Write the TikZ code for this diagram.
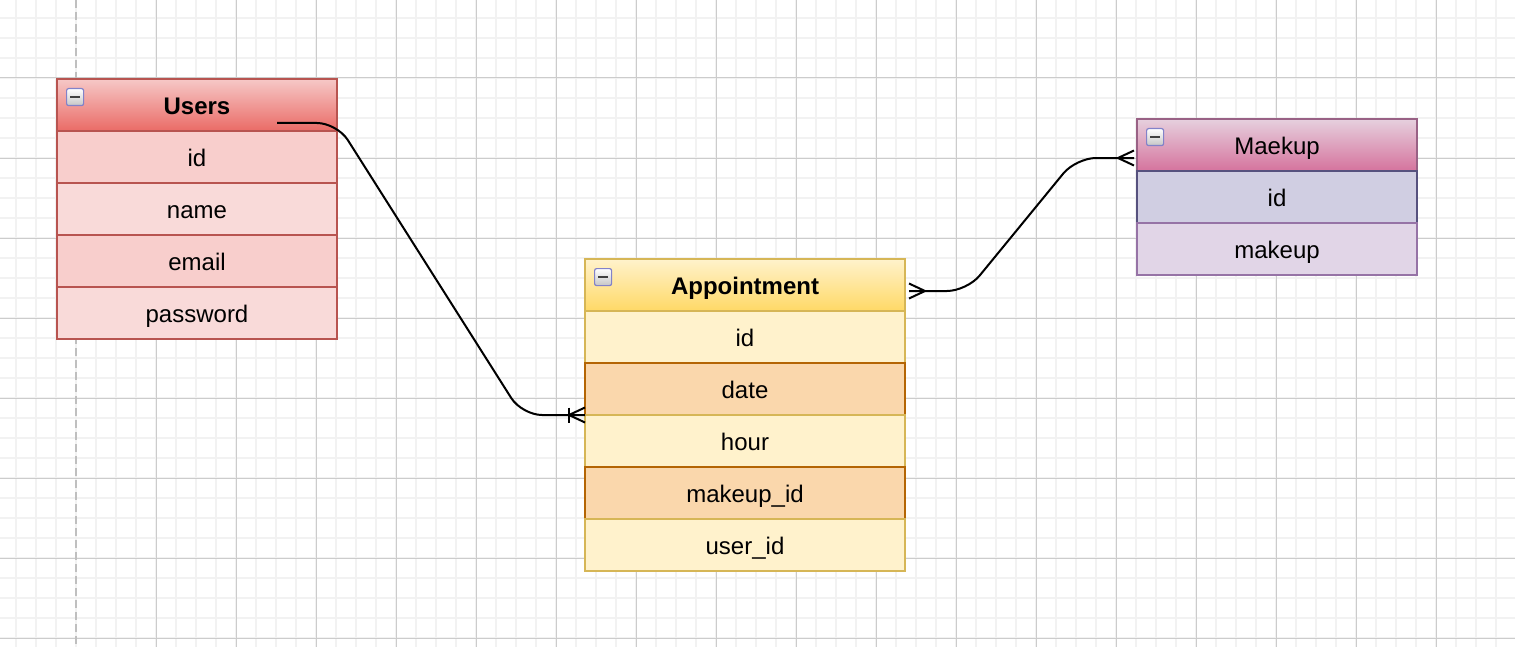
\documentclass[tikz,border=0pt]{standalone}
\usepackage{fontspec}
\setmainfont{Liberation Sans}
\usetikzlibrary{positioning, calc}

\definecolor{usersline}{HTML}{B85450}
\definecolor{usersdark}{HTML}{F8CECC}
\definecolor{userslight}{HTML}{F9DAD9}
\definecolor{userstop}{HTML}{F6C8C7}
\definecolor{usersbottom}{HTML}{EA6B66}
\definecolor{apptline}{HTML}{D6B656}
\definecolor{apptfill}{HTML}{FFF2CC}
\definecolor{apptbottom}{HTML}{FFD966}
\definecolor{keyline}{HTML}{B46504}
\definecolor{keyfill}{HTML}{FAD7AC}
\definecolor{maekline}{HTML}{996185}
\definecolor{maektop}{HTML}{E6D0DE}
\definecolor{maekbottom}{HTML}{D5739D}
\definecolor{maekidline}{HTML}{56517E}
\definecolor{maekidfill}{HTML}{D0CEE2}
\definecolor{maekrowline}{HTML}{9673A6}
\definecolor{maekrowfill}{HTML}{E1D5E7}

% small collapse box in the corner of a table header
\newcommand{\minusicon}[1]{%
  \node[collapse, anchor=north west] (#1-icon) at ($(#1.north west)+(9,9)$) {};
  \draw[line width=1.2pt, black!75] ($(#1-icon.center)+(-5,0)$) -- ($(#1-icon.center)+(5,0)$);
}

\begin{document}
\begin{tikzpicture}[
        x=0.5pt, y=-0.5pt,
        node distance=0pt,
        cell/.style={rectangle, line width=1pt, outer sep=0pt, inner sep=0pt, minimum height=26pt,
          text height=9.6pt, text depth=0.4pt, font=\fontsize{12}{14}\selectfont},
        usershead/.style={cell, draw=usersline, top color=userstop, bottom color=usersbottom, minimum width=140pt, font=\fontsize{12}{14}\selectfont\bfseries},
        usersrow/.style={cell, draw=usersline, minimum width=140pt},
        appthead/.style={cell, draw=apptline, top color=apptfill, bottom color=apptbottom, minimum width=160pt, font=\fontsize{12}{14}\selectfont\bfseries},
        apptrow/.style={cell, draw=apptline, fill=apptfill, minimum width=160pt},
        apptkey/.style={cell, draw=keyline, fill=keyfill, minimum width=160pt},
        maekhead/.style={cell, draw=maekline, top color=maektop, bottom color=maekbottom, minimum width=140pt},
        collapse/.style={rectangle, draw=gray!60!blue!70, line width=0.6pt, rounded corners=1pt, top color=white, bottom color=gray!45, minimum size=8.5pt, inner sep=0pt},
        minorgrid/.style={line width=1pt, color=black!5},
        majorgrid/.style={line width=0.5pt, color=black!20},
        relation/.style={line width=1pt, black},
        crowfoot/.pic={\draw[relation] (-16,0) -- (0,-7.5) (-16,0) -- (0,7.5);}
    ]
    \useasboundingbox (0,0) rectangle (1515,647);
    \fill[white] (0,0) rectangle (1515,647);

    % grid
    \foreach \gx in {16,36,...,1516} \draw[minorgrid] (\gx,0) -- (\gx,647);
    \foreach \gy in {18,38,...,638} \draw[minorgrid] (0,\gy) -- (1515,\gy);
    \foreach \gx in {156,236,...,1436} \draw[majorgrid] (\gx,0) -- (\gx,647);
    \foreach \gy in {78,158,...,638} \draw[majorgrid] (0,\gy) -- (1515,\gy);
    \draw[line width=1pt, black!25, dash pattern=on 4pt off 2pt] (76,0) -- (76,647);

    % Users
    \node[usershead, anchor=north west] (users) at (57,79) {Users};
    \node[usersrow, fill=usersdark, below=of users] (usersid) {id};
    \node[usersrow, fill=userslight, below=of usersid] (usersname) {name};
    \node[usersrow, fill=usersdark, below=of usersname] (usersemail) {email};
    \node[usersrow, fill=userslight, below=of usersemail] (userspass) {password};
    \minusicon{users}

    % Appointment
    \node[appthead, anchor=north west] (appt) at (585,259) {Appointment};
    \node[apptrow, below=of appt] (apptid) {id};
    \node[apptkey, below=of apptid] (apptdate) {date};
    \node[apptrow, below=of apptdate] (appthour) {hour};
    \node[apptkey, below=of appthour] (apptmakeup) {makeup\_id};
    \node[apptrow, below=of apptmakeup] (apptuser) {user\_id};
    \minusicon{appt}

    % Maekup
    \node[maekhead, anchor=north west] (maek) at (1137,119) {Maekup};
    \node[cell, draw=maekidline, fill=maekidfill, minimum width=140pt, below=of maek] (maekid) {id};
    \node[cell, draw=maekrowline, fill=maekrowfill, minimum width=140pt, below=of maekid] (maekmakeup) {makeup};
    \minusicon{maek}

    % relations
    \draw[relation, rounded corners=10pt] ($(users.south east)+(-60,-8)$) -- ($(users.south east)+(0,-8)$)
        -- ($(apptdate.south west)+(-63,0)$) -- (apptdate.south west);
    \pic at (apptdate.south west) {crowfoot};
    \draw[relation] ($(apptdate.south west)+(-16,-7.5)$) -- ++(0,15);

    \draw[relation, rounded corners=10pt] ($(appt.east)+(4,6)$) -- ($(appt.east)+(62,6)$)
        -- ($(maek.west)+(-61,13)$) -- ($(maek.west)+(-3,13)$);
    \pic[rotate=180] at ($(appt.east)+(4,6)$) {crowfoot};
    \pic at ($(maek.west)+(-3,13)$) {crowfoot};
\end{tikzpicture}
\end{document}
